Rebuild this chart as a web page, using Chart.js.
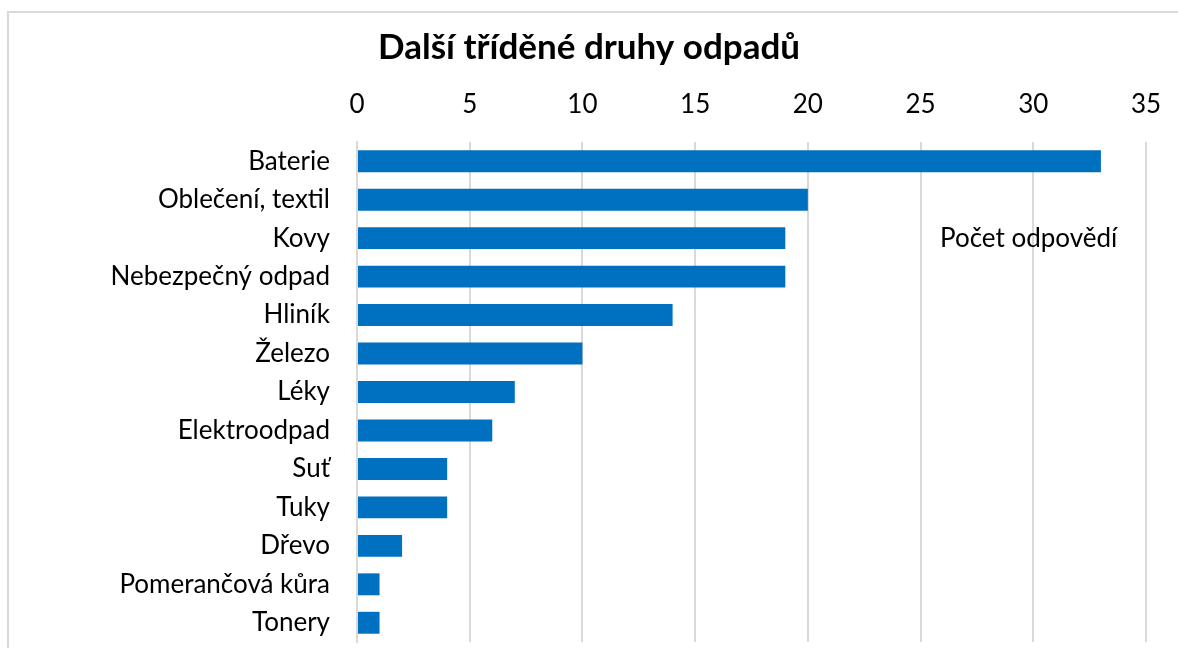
<!DOCTYPE html>
<html>
<head>
<meta charset="utf-8">
<script src="https://cdn.jsdelivr.net/npm/chart.js@4"></script>
<style>
  body { margin: 0; background: #fff; overflow: hidden; }
  #frame { position: absolute; left: 7px; top: 11px; width: 1200px; height: 700px; border: 2px solid #d9d9d9; }
  #wrap { position: absolute; left: 0; top: 0; width: 1178px; height: 648px; }
</style>
</head>
<body>
<div id="frame"></div>
<div id="wrap"><canvas id="myChart" width="1178" height="648"></canvas></div>
<script>
// categories top to bottom
const categories = ['Baterie', 'Oblečení, textil', 'Kovy', 'Nebezpečný odpad', 'Hliník', 'Železo',
  'Léky', 'Elektroodpad', 'Suť', 'Tuky', 'Dřevo', 'Pomerančová kůra', 'Tonery'];
const counts = [33, 20, 19, 19, 14, 10, 7, 6, 4, 4, 2, 1, 1];
const seriesName = 'Počet odpovědí';
const chartTitle = 'Další tříděné druhy odpadů';

const fontFamily = 'Lato, "Open Sans", sans-serif';

// draws the series name inside the plot, like the original
const seriesLabel = {
  id: 'seriesLabel',
  afterDraw(chart) {
    const { ctx, chartArea } = chart;
    ctx.save();
    ctx.font = '26px ' + fontFamily;
    ctx.fillStyle = '#000';
    ctx.textAlign = 'left';
    ctx.textBaseline = 'middle';
    ctx.fillText(seriesName, chartArea.right - 206, chartArea.top + 97);
    ctx.restore();
  }
};

const ctx = document.getElementById('myChart').getContext('2d');
new Chart(ctx, {
  type: 'bar',
  data: {
    labels: categories,
    datasets: [{
      label: seriesName,
      data: counts,
      backgroundColor: '#0070C0',
      borderWidth: 0,
      barPercentage: 0.57,
      categoryPercentage: 1
    }]
  },
  options: {
    indexAxis: 'y',
    responsive: false,
    animation: false,
    layout: { padding: { left: 32, right: 32, top: 0, bottom: 6 } },
    plugins: {
      legend: { display: false },
      tooltip: { enabled: false },
      title: {
        display: true,
        text: chartTitle,
        color: '#000',
        font: { family: fontFamily, size: 35, weight: 'bold' },
        padding: { top: 27, bottom: 1 }
      }
    },
    scales: {
      x: {
        position: 'top',
        min: 0,
        max: 35,
        ticks: { stepSize: 5, color: '#000', font: { family: fontFamily, size: 26 }, padding: 22 },
        grid: { color: '#d9d9d9', lineWidth: 2, drawTicks: false },
        border: { display: false },
        afterFit(scale) {
          scale.height = 72;
          scale.paddingLeft = 0;
          scale.paddingRight = 0;
        }
      },
      y: {
        ticks: { color: '#000', font: { family: fontFamily, size: 26 }, padding: 19, autoSkip: false },
        grid: { display: false },
        border: { display: true, color: '#d9d9d9', width: 2 },
        afterFit(scale) {
          scale.width = 325;
          scale.paddingTop = 0;
          scale.paddingBottom = 0;
        }
      }
    }
  },
  plugins: [seriesLabel]
});
</script>
</body>
</html>
